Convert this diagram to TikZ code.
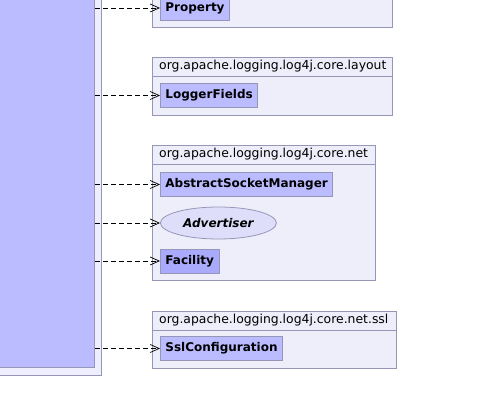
\documentclass[tikz,border=0pt]{standalone}
\usepackage{fontspec}
\setmainfont{DejaVu Sans}
\usetikzlibrary{arrows.meta,positioning,shapes.geometric}
\definecolor{UmlClass}{RGB}{187,187,255}
\definecolor{UmlEnum}{RGB}{170,170,252}
\definecolor{UmlIface}{RGB}{222,222,250}
\definecolor{UmlPkg}{RGB}{238,238,250}
\definecolor{UmlOuter}{RGB}{238,238,255}
\definecolor{UmlLine}{RGB}{150,150,185}
\tikzset{
  uml/pkg/.style={
    draw=UmlLine,
    line width=0.8pt,
    fill=UmlPkg,
    anchor=north west,
    inner sep=0pt
  },
  uml/pkghead/.style={
    uml/pkg,
    minimum height=19pt
  },
  uml/pkgname/.style={
    anchor=west,
    inner sep=0pt,
    font=\fontsize{12.4}{14}\selectfont
  },
  uml/class/.style={
    draw=UmlLine,
    line width=0.8pt,
    fill=UmlClass,
    anchor=west,
    minimum height=24pt,
    inner xsep=5pt,
    font=\fontsize{12}{14}\selectfont\bfseries
  },
  uml/enum/.style={
    uml/class,
    fill=UmlEnum
  },
  uml/iface/.style={
    ellipse,
    draw=UmlLine,
    line width=0.8pt,
    fill=UmlIface,
    anchor=west,
    minimum width=116pt,
    minimum height=32pt,
    inner sep=0pt,
    font=\fontsize{12}{14}\selectfont\bfseries\itshape
  },
  uml/dep/.style={-{Straight Barb[length=9pt,width=8pt]}, dash pattern=on 5pt off 3pt, line width=0.7pt}
}
\begin{document}
\begin{tikzpicture}[x=1pt,y=-1pt]
  \useasboundingbox (0,0) rectangle (496,414);
  \clip (0,0) rectangle (496,414);
  % source class, partly outside the view
  \node[draw=UmlLine,line width=0.8pt,fill=UmlOuter,anchor=south east,minimum width=110pt,minimum height=390pt] (outer) at (102,376) {};
  \node[draw=UmlLine,line width=0.8pt,fill=UmlClass,anchor=south east,minimum width=103pt,minimum height=380pt] (source) at (95,368) {};

  % packages
  \node[uml/pkg,minimum width=240pt,minimum height=50pt] (pkgconfig) at (152,-23) {};
  \node[uml/pkg,minimum width=240pt,minimum height=58pt] (pkglayout) at (152,57) {};
  \node[uml/pkghead,minimum width=240pt] (hdlayout) at (152,57) {};
  \node[uml/pkgname] at (159,66.5) {org.apache.logging.log4j.core.layout};
  \node[uml/pkg,minimum width=223pt,minimum height=135pt] (pkgnet) at (152,145) {};
  \node[uml/pkghead,minimum width=223pt] (hdnet) at (152,145) {};
  \node[uml/pkgname] at (159,154.5) {org.apache.logging.log4j.core.net};
  \node[uml/pkg,minimum width=244pt,minimum height=57pt] (pkgssl) at (152,311) {};
  \node[uml/pkghead,minimum width=244pt] (hdssl) at (152,311) {};
  \node[uml/pkgname] at (159,320.5) {org.apache.logging.log4j.core.net.ssl};

  % classes
  \node[uml/class] (property) at (160,8) {Property};
  \node[uml/class] (loggerfields) at (160,95.5) {LoggerFields};
  \node[uml/class] (socketmgr) at (160,184.5) {AbstractSocketManager};
  \node[uml/iface] (advertiser) at (160,223) {Advertiser};
  \node[uml/enum] (facility) at (160,261) {Facility};
  \node[uml/class] (sslconfig) at (160,348.5) {SslConfiguration};

  \foreach \target in {property,loggerfields,socketmgr,advertiser,facility,sslconfig}
    \draw[uml/dep] (source.east |- \target.west) -- (\target.west);
\end{tikzpicture}
\end{document}
